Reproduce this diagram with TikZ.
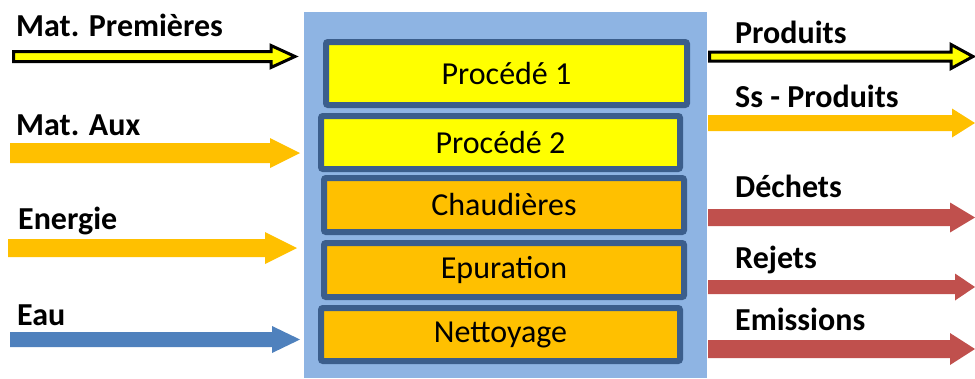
\documentclass[tikz,border=0pt]{standalone}
\usepackage{fontspec}
\setmainfont{Carlito}
\definecolor{siteblue}{HTML}{8EB4E3}
\definecolor{frameblue}{HTML}{3B5E8C}
\definecolor{procyellow}{HTML}{FFFF00}
\definecolor{gold}{HTML}{FFC000}
\definecolor{flowred}{HTML}{C0504D}
\definecolor{flowblue}{HTML}{4F81BD}
\tikzset{
  flow/.style={draw=none},
  mainflow/.style={fill=procyellow, draw=black, line width=3pt, line join=miter},
  lbl/.style={anchor=base west, inner sep=0pt, font=\fontsize{32}{34}\selectfont\bfseries},
  unit/.style={draw=frameblue, line width=6pt, rounded corners=2pt,
    inner sep=0pt, font=\fontsize{32}{34}\selectfont},
}
% block arrow: #1 style, #2 name, #3 tail x, #4 axis y, #5 head start x,
% #6 tip x, #7 shaft half width, #8 head half width
\newcommand\blockarrow[8]{%
  \draw[#1] (#3,#4-#7) coordinate (#2-tail) -- (#5,#4-#7) -- (#5,#4-#8)
    -- (#6,#4) coordinate (#2-tip) -- (#5,#4+#8) -- (#5,#4+#7)
    -- (#3,#4+#7) -- cycle;}
\begin{document}
\begin{tikzpicture}[x=1pt,y=-1pt]
\useasboundingbox (0,0) rectangle (975,378);

% plant boundary
\node[fill=siteblue, minimum width=403pt, minimum height=366pt,
  anchor=north west, inner sep=0pt] (site) at (304,12) {};

% process units
\node[unit, fill=procyellow, minimum width=361pt, minimum height=63pt] (p1) at (506.5,73.5) {Procédé 1};
\node[unit, fill=procyellow, minimum width=359pt, minimum height=53pt] (p2) at (500.5,142.5) {Procédé 2};
\node[unit, fill=gold, minimum width=360pt, minimum height=54pt] (chaud) at (504,205) {Chaudières};
\node[unit, fill=gold, minimum width=360pt, minimum height=54pt] (epur) at (504,270) {Epuration};
\node[unit, fill=gold, minimum width=359pt, minimum height=53pt] (nett) at (500.5,334.5) {Nettoyage};

% inputs
\blockarrow{mainflow}{in1}{13.5}{56.5}{271}{295}{5}{11}
\blockarrow{flow, fill=gold}{in2}{10}{153}{270}{300}{10}{15}
\blockarrow{flow, fill=gold}{in3}{8}{248}{265}{297}{9}{16}
\blockarrow{flow, fill=flowblue}{in4}{10}{339.5}{272}{300}{7.5}{13.5}

\node[lbl] (t1) at (16,36) {Mat. Premières};
\node[lbl] (t2) at (16,135) {Mat. Aux};
\node[lbl] (t3) at (18,229) {Energie};
\node[lbl] (t4) at (17,325) {Eau};

% outputs
\blockarrow{mainflow}{out1}{709.5}{56.5}{951}{973}{4.5}{12}
\blockarrow{flow, fill=gold}{out2}{708}{123}{952}{975}{8}{14.5}
\blockarrow{flow, fill=flowred}{out3}{708}{217.5}{950}{975}{8.5}{15}
\blockarrow{flow, fill=flowred}{out4}{708}{287}{955}{975}{7}{13.5}
\blockarrow{flow, fill=flowred}{out5}{708}{349}{950}{975}{9}{16}

\node[lbl] (u1) at (735,43) {Produits};
\node[lbl] (u2) at (735,107) {Ss - Produits};
\node[lbl] (u3) at (735,197) {Déchets};
\node[lbl] (u4) at (735,268) {Rejets};
\node[lbl] (u5) at (735,330) {Emissions};
\end{tikzpicture}
\end{document}
